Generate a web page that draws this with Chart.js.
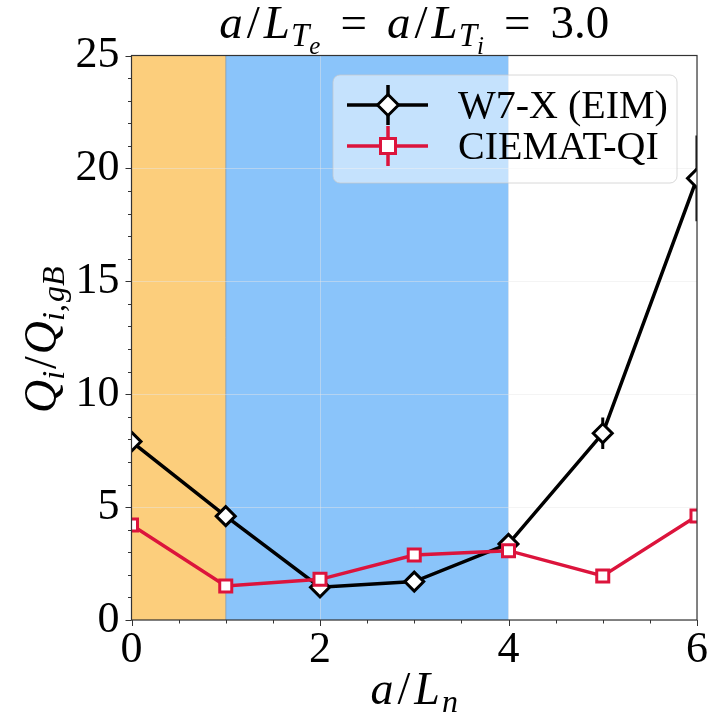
<!DOCTYPE html>
<html>
<head>
<meta charset="utf-8">
<script src="https://cdn.jsdelivr.net/npm/chart.js@4.4.1/dist/chart.umd.min.js"></script>
<style>
  html, body { margin: 0; padding: 0; background: #ffffff; }
  #wrap { width: 716px; height: 724px; position: relative; }
  .pre { position: absolute; left: -9999px; top: 0; font-family: "Liberation Serif"; font-size: 20px; }
</style>
</head>
<body>
<div class="pre">pre <i>italic</i></div>
<div id="wrap"><canvas id="c" width="716" height="724"></canvas></div>
<script>
// ---- data ----
const xValues = [0, 1, 2, 3, 4, 5, 6];
const w7xValues = [7.9, 4.6, 1.45, 1.7, 3.37, 8.27, 19.56];
const w7xErrors = [0, 0, 0, 0, 0, 0.7, 1.9];
const ciematValues = [4.21, 1.51, 1.8, 2.88, 3.07, 1.95, 4.61];
const seriesNames = ['W7-X (EIM)', 'CIEMAT-QI'];
const orangeBand = [0, 1];
const blueBand = [1, 4];
const xTicks = [0, 2, 4, 6];
const yTicks = [0, 5, 10, 15, 20, 25];

const SERIF = '"Liberation Serif", "DejaVu Serif", serif';
const BLACK = '#000000';
const RED = '#DC143C';

function toPoints(xs, ys) { return xs.map((x, i) => ({ x: x, y: ys[i] })); }

function drawRuns(ctx, runs, x, y, align) {
  let total = 0;
  runs.forEach(r => {
    ctx.font = (r.it ? 'italic ' : '') + r.s + 'px ' + SERIF;
    r.w = ctx.measureText(r.t).width;
    total += r.w + (r.sp || 0);
  });
  let cx = align === 'center' ? x - total / 2 : x;
  ctx.textAlign = 'left';
  ctx.textBaseline = 'alphabetic';
  runs.forEach(r => {
    ctx.font = (r.it ? 'italic ' : '') + r.s + 'px ' + SERIF;
    ctx.fillText(r.t, cx, y + (r.dy || 0));
    cx += r.w + (r.sp || 0);
  });
  return total;
}

const decorPlugin = {
  id: 'decor',
  beforeDraw(chart) {
    const { ctx, chartArea: a, scales } = chart;
    const xs = scales.x;
    ctx.save();
    ctx.fillStyle = '#FCCE7C';
    const o0 = xs.getPixelForValue(orangeBand[0]), o1 = xs.getPixelForValue(orangeBand[1]);
    ctx.fillRect(o0, a.top, o1 - o0, a.bottom - a.top);
    ctx.fillStyle = '#8AC4FA';
    const b0 = xs.getPixelForValue(blueBand[0]), b1 = xs.getPixelForValue(blueBand[1]);
    ctx.fillRect(b0, a.top, b1 - b0, a.bottom - a.top);
    ctx.strokeStyle = 'rgba(110,110,110,0.45)';
    ctx.lineWidth = 1;
    ctx.beginPath();
    ctx.moveTo(o1, a.top); ctx.lineTo(o1, a.bottom);
    ctx.stroke();
    ctx.restore();
  },
  beforeDatasetsDraw(chart) {
    const { ctx, chartArea: a, scales } = chart;
    ctx.save();
    ctx.beginPath();
    ctx.rect(a.left, a.top, a.right - a.left, a.bottom - a.top);
    ctx.clip();
    ctx.strokeStyle = BLACK;
    ctx.lineWidth = 3;
    xValues.forEach((x, i) => {
      const e = w7xErrors[i];
      if (!e) return;
      const px = scales.x.getPixelForValue(x);
      ctx.beginPath();
      ctx.moveTo(px, scales.y.getPixelForValue(w7xValues[i] - e));
      ctx.lineTo(px, scales.y.getPixelForValue(w7xValues[i] + e));
      ctx.stroke();
    });
    ctx.restore();
  },
  afterDraw(chart) {
    const { ctx, chartArea: a, scales } = chart;
    const xs = scales.x, ys = scales.y;
    ctx.save();
    ctx.strokeStyle = '#333333';
    ctx.lineWidth = 1.2;
    ctx.strokeRect(a.left, a.top, a.right - a.left, a.bottom - a.top);
    ctx.lineWidth = 1;
    ctx.beginPath();
    for (let v = 0; v <= 6.0001; v += 0.5) {
      const px = Math.round(xs.getPixelForValue(v)) + 0.5;
      const major = Math.abs(v / 2 - Math.round(v / 2)) < 1e-6;
      ctx.moveTo(px, a.bottom);
      ctx.lineTo(px, a.bottom + (major ? 6 : 3.5));
    }
    for (let v = 0; v <= 25.0001; v += 1) {
      const py = Math.round(ys.getPixelForValue(v)) + 0.5;
      const major = v % 5 === 0;
      ctx.moveTo(a.left, py);
      ctx.lineTo(a.left - (major ? 6 : 3.5), py);
    }
    ctx.stroke();

    ctx.fillStyle = '#000000';
    const cxm = (a.left + a.right) / 2;
    const T = 47, S1 = 33, S2 = 25;
    drawRuns(ctx, [
      { t: 'a', s: T, it: true, sp: 4 }, { t: '/', s: T, sp: 4 }, { t: 'L', s: T, it: true, sp: 1 },
      { t: 'T', s: S1, it: true, dy: 8 }, { t: 'e', s: S2, it: true, dy: 16, sp: 20 },
      { t: '=', s: T, sp: 20 },
      { t: 'a', s: T, it: true, sp: 4 }, { t: '/', s: T, sp: 4 }, { t: 'L', s: T, it: true, sp: 1 },
      { t: 'T', s: S1, it: true, dy: 8 }, { t: 'i', s: S2, it: true, dy: 16, sp: 20 },
      { t: '=', s: T, sp: 20 }, { t: '3.0', s: T }
    ], cxm, 38, 'center');
    drawRuns(ctx, [
      { t: 'a', s: 46, it: true, sp: 4 }, { t: '/', s: 46, sp: 4 }, { t: 'L', s: 46, it: true, sp: 2 },
      { t: 'n', s: 32, it: true, dy: 8 }
    ], cxm, 704, 'center');
    ctx.save();
    ctx.translate(56, (a.top + a.bottom) / 2 + 2);
    ctx.rotate(-Math.PI / 2);
    drawRuns(ctx, [
      { t: 'Q', s: 46, it: true }, { t: 'i', s: 32, it: true, dy: 8, sp: 2 },
      { t: '/', s: 46, sp: 2 }, { t: 'Q', s: 46, it: true },
      { t: 'i', s: 32, it: true, dy: 8 }, { t: ',', s: 32, dy: 8, sp: 2 },
      { t: 'gB', s: 32, it: true, dy: 8 }
    ], 0, 0, 'center');
    ctx.restore();

    const lx = 333, ly = 75, lw = 344, lh = 108, r = 7;
    ctx.beginPath();
    ctx.moveTo(lx + r, ly);
    ctx.arcTo(lx + lw, ly, lx + lw, ly + lh, r);
    ctx.arcTo(lx + lw, ly + lh, lx, ly + lh, r);
    ctx.arcTo(lx, ly + lh, lx, ly, r);
    ctx.arcTo(lx, ly, lx + lw, ly, r);
    ctx.closePath();
    ctx.fillStyle = 'rgba(255,255,255,0.5)';
    ctx.fill();
    ctx.strokeStyle = 'rgba(200,200,200,0.7)';
    ctx.lineWidth = 1;
    ctx.stroke();

    const rows = [
      { y: 105, color: BLACK, style: 'diamond', name: seriesNames[0] },
      { y: 146, color: RED, style: 'square', name: seriesNames[1] }
    ];
    rows.forEach(row => {
      ctx.strokeStyle = row.color;
      ctx.lineWidth = 3.5;
      ctx.beginPath();
      ctx.moveTo(347, row.y); ctx.lineTo(428, row.y);
      ctx.moveTo(388, row.y - 20); ctx.lineTo(388, row.y + 20);
      ctx.stroke();
      ctx.fillStyle = '#ffffff';
      ctx.lineWidth = 3;
      ctx.beginPath();
      if (row.style === 'diamond') {
        const d = 10.5;
        ctx.moveTo(388, row.y - d); ctx.lineTo(388 + d, row.y);
        ctx.lineTo(388, row.y + d); ctx.lineTo(388 - d, row.y);
        ctx.closePath();
      } else {
        const h = 7.5;
        ctx.rect(388 - h, row.y - h, 2 * h, 2 * h);
      }
      ctx.fill();
      ctx.stroke();
      ctx.fillStyle = '#000000';
      ctx.font = '40px ' + SERIF;
      ctx.textAlign = 'left';
      ctx.textBaseline = 'middle';
      ctx.fillText(row.name, 458, row.y + 2);
    });
    ctx.restore();
  }
};

function build() {
  new Chart(document.getElementById('c'), {
    type: 'line',
    data: {
      datasets: [
        {
          label: seriesNames[0],
          data: toPoints(xValues, w7xValues),
          borderColor: BLACK,
          borderWidth: 3.5,
          pointStyle: 'rectRot',
          pointRadius: 9.5,
          pointBorderWidth: 3,
          pointBackgroundColor: '#ffffff',
          pointBorderColor: BLACK,
          order: 1,
          clip: 0
        },
        {
          label: seriesNames[1],
          data: toPoints(xValues, ciematValues),
          borderColor: RED,
          borderWidth: 3.5,
          pointStyle: 'rect',
          pointRadius: 8.5,
          pointBorderWidth: 3,
          pointBackgroundColor: '#ffffff',
          pointBorderColor: RED,
          order: 0,
          clip: 0
        }
      ]
    },
    options: {
      responsive: false,
      animation: false,
      devicePixelRatio: 1,
      layout: { padding: { left: 0, right: 19, top: 55.5, bottom: 0 } },
      plugins: { legend: { display: false }, tooltip: { enabled: false }, title: { display: false } },
      elements: { line: { tension: 0 } },
      scales: {
        x: {
          type: 'linear', min: 0, max: 6,
          afterBuildTicks: s => { s.ticks = xTicks.map(v => ({ value: v })); },
          afterFit: s => { s.height = 104; },
          grid: { color: 'rgba(230,230,230,0.45)', lineWidth: 1, drawTicks: false },
          border: { display: false },
          ticks: { color: '#000', font: { family: SERIF, size: 44, lineHeight: 1 }, padding: 8, maxRotation: 0 }
        },
        y: {
          type: 'linear', min: 0, max: 25,
          afterBuildTicks: s => { s.ticks = yTicks.map(v => ({ value: v })); },
          afterFit: s => { s.width = 131.5; },
          grid: { color: 'rgba(230,230,230,0.45)', lineWidth: 1, drawTicks: false },
          border: { display: false },
          ticks: { color: '#000', font: { family: SERIF, size: 44, lineHeight: 1 }, padding: 12 }
        }
      }
    },
    plugins: [decorPlugin]
  });
}

Promise.all([
  document.fonts.load('44px "Liberation Serif"'),
  document.fonts.load('italic 44px "Liberation Serif"')
]).then(build, build);
</script>
</body>
</html>
